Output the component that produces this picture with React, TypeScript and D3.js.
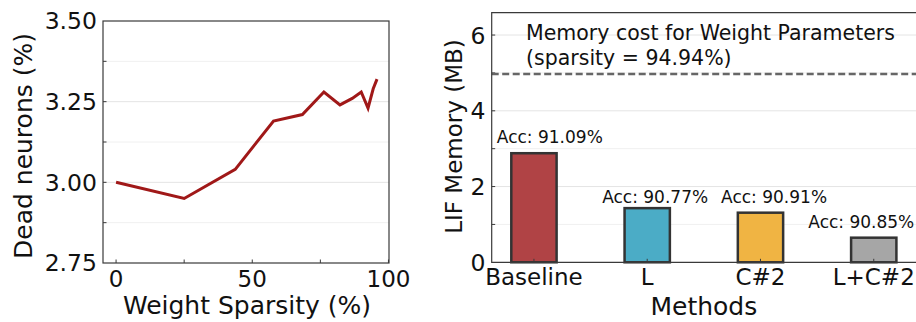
import React from "react";
import * as d3 from "d3";

const sparsity = [0, 25, 43.75, 57.8, 68.4, 76.3, 82.2, 86.7, 90.0, 92.5, 94.4, 95.8];
const deadNeurons = [3.0, 2.95, 3.04, 3.19, 3.21, 3.28, 3.24, 3.26, 3.28, 3.23, 3.29, 3.32];
const leftXTicks = [0, 25, 50, 75, 100];
const leftXTickLabels = ["0", "50", "100"];
const leftYTicks = [2.75, 3.0, 3.25, 3.5];

const methods = ["Baseline", "L", "C#2", "L+C#2"];
const lifMemory = [2.88, 1.43, 1.31, 0.65];
const barColors = ["#b04345", "#4bacc6", "#f0b443", "#a6a6a6"];
const accLabels = ["Acc: 91.09%", "Acc: 90.77%", "Acc: 90.91%", "Acc: 90.85%"];
const accLabelX = [0.14, 1.07, 2.12, 2.89];
const accLabelY = [3.14, 1.56, 1.56, 0.9];
const rightYTicks = [0, 2, 4, 6];
const weightMemory = 4.97;
const annotationLines = ["Memory cost for Weight Parameters", "(sparsity = 94.94%)"];
const annotationY = [5.86, 5.22];

const FONT = "DejaVu Sans, sans-serif";

export default function App() {
  // Left panel
  const L = { left: 103, right: 389, top: 21, bottom: 263 };
  const lx = d3.scaleLinear().domain([-4.8, 100.2]).range([L.left, L.right]);
  const ly = d3.scaleLinear().domain([2.75, 3.5]).range([L.bottom, L.top]);
  const lineGen = d3
    .line<number>()
    .x((_, i) => lx(sparsity[i]))
    .y((d) => ly(d));
  const leftGrid = d3.range(2.875, 3.5, 0.125);

  // Right panel
  const R = { left: 491.7, right: 916, top: 12.7, bottom: 262.3 };
  const rx = d3.scaleLinear().domain([-0.373, 3.373]).range([R.left, R.right]);
  const ry = d3.scaleLinear().domain([0, 6.59]).range([R.bottom, R.top]);
  const barW = rx(0.4) - rx(0);
  const rightGrid = [1, 2, 3, 4, 5, 6];

  const spine = "#3a3a3a";

  return (
    <svg width={916} height={322} style={{ position: "absolute", left: 0, top: 0, background: "#fff" }} fontFamily={FONT}>
      <rect width={916} height={322} fill="#fff" />
      {/* LEFT */}
      {leftGrid.map((v, i) => (
        <line key={"lg" + i} x1={L.left} x2={L.right} y1={ly(v)} y2={ly(v)} stroke={i % 2 === 0 ? "#f0f0f0" : "#e4e4e4"} strokeWidth={1} />
      ))}
      {leftGrid.map((v, i) => (
        <line key={"lyt" + i} x1={L.left} x2={L.left + 3.5} y1={ly(v)} y2={ly(v)} stroke={spine} strokeWidth={1} />
      ))}
      {leftXTicks.map((v) => (
        <line key={"lxt" + v} x1={lx(v)} x2={lx(v)} y1={L.bottom} y2={L.bottom - 3.5} stroke={spine} strokeWidth={1} />
      ))}
      <path d={lineGen(deadNeurons) || ""} fill="none" stroke="#a01818" strokeWidth={3} strokeLinejoin="miter" />
      <rect x={L.left} y={L.top} width={L.right - L.left} height={L.bottom - L.top} fill="none" stroke={spine} strokeWidth={1.2} />
      {leftYTicks.map((v) => (
        <text key={"lyl" + v} x={97} y={ly(v)} dy="0.36em" textAnchor="end" fontSize={23.5} fill="#111">
          {v.toFixed(2)}
        </text>
      ))}
      {leftXTickLabels.map((t) => (
        <text key={"lxl" + t} x={lx(+t)} y={287} textAnchor="middle" fontSize={23} fill="#111">
          {t}
        </text>
      ))}
      <text x={247} y={313.5} textAnchor="middle" fontSize={25} fill="#111">
        Weight Sparsity (%)
      </text>
      <text transform={`translate(31.5,146) rotate(-90)`} textAnchor="middle" fontSize={25} fill="#111">
        Dead neurons (%)
      </text>

      {/* RIGHT */}
      {rightGrid.map((v) => (
        <line key={"rg" + v} x1={R.left} x2={R.right} y1={ry(v)} y2={ry(v)} stroke={v % 2 === 0 ? "#e4e4e4" : "#f0f0f0"} strokeWidth={1} />
      ))}
      {rightGrid.map((v) => (
        <line key={"ryt" + v} x1={R.left} x2={R.left + 3.5} y1={ry(v)} y2={ry(v)} stroke={spine} strokeWidth={1} />
      ))}
      <line x1={R.left} x2={R.right} y1={ry(weightMemory)} y2={ry(weightMemory)} stroke="#666" strokeWidth={2.6} strokeDasharray="7,3.5" />
      {methods.map((m, i) => (
        <rect key={"bar" + m} x={rx(i) - barW / 2} y={ry(lifMemory[i])} width={barW} height={ry(0) - ry(lifMemory[i])} fill={barColors[i]} stroke="#333" strokeWidth={2.5} />
      ))}
      {methods.map((m, i) => (
        <line key={"rxt" + m} x1={rx(i)} x2={rx(i)} y1={R.bottom} y2={R.bottom - 3.5} stroke={spine} strokeWidth={1} />
      ))}
      <path d={`M${R.right},${R.top} H${R.left} V${R.bottom} H${R.right}`} fill="none" stroke={spine} strokeWidth={1.2} />
      {accLabels.map((t, i) => (
        <text key={"acc" + i} x={rx(accLabelX[i])} y={ry(accLabelY[i])} textAnchor="middle" fontSize={17} fill="#111">
          {t}
        </text>
      ))}
      {annotationLines.map((t, i) => (
        <text key={"ann" + i} x={rx(-0.07)} y={ry(annotationY[i])} fontSize={20.5} fill="#111">
          {t}
        </text>
      ))}
      {rightYTicks.map((v) => (
        <text key={"ryl" + v} x={485.5} y={ry(v)} dy="0.36em" textAnchor="end" fontSize={23.5} fill="#111">
          {v}
        </text>
      ))}
      {methods.map((m, i) => (
        <text key={"rxl" + m} x={rx(i)} y={285} textAnchor="middle" fontSize={23} fill="#111">
          {m}
        </text>
      ))}
      <text x={(R.left + R.right) / 2} y={315} textAnchor="middle" fontSize={25} fill="#111">
        Methods
      </text>
      <text transform={`translate(462,136.5) rotate(-90)`} textAnchor="middle" fontSize={23} fill="#111">
        LIF Memory (MB)
      </text>
    </svg>
  );
}
